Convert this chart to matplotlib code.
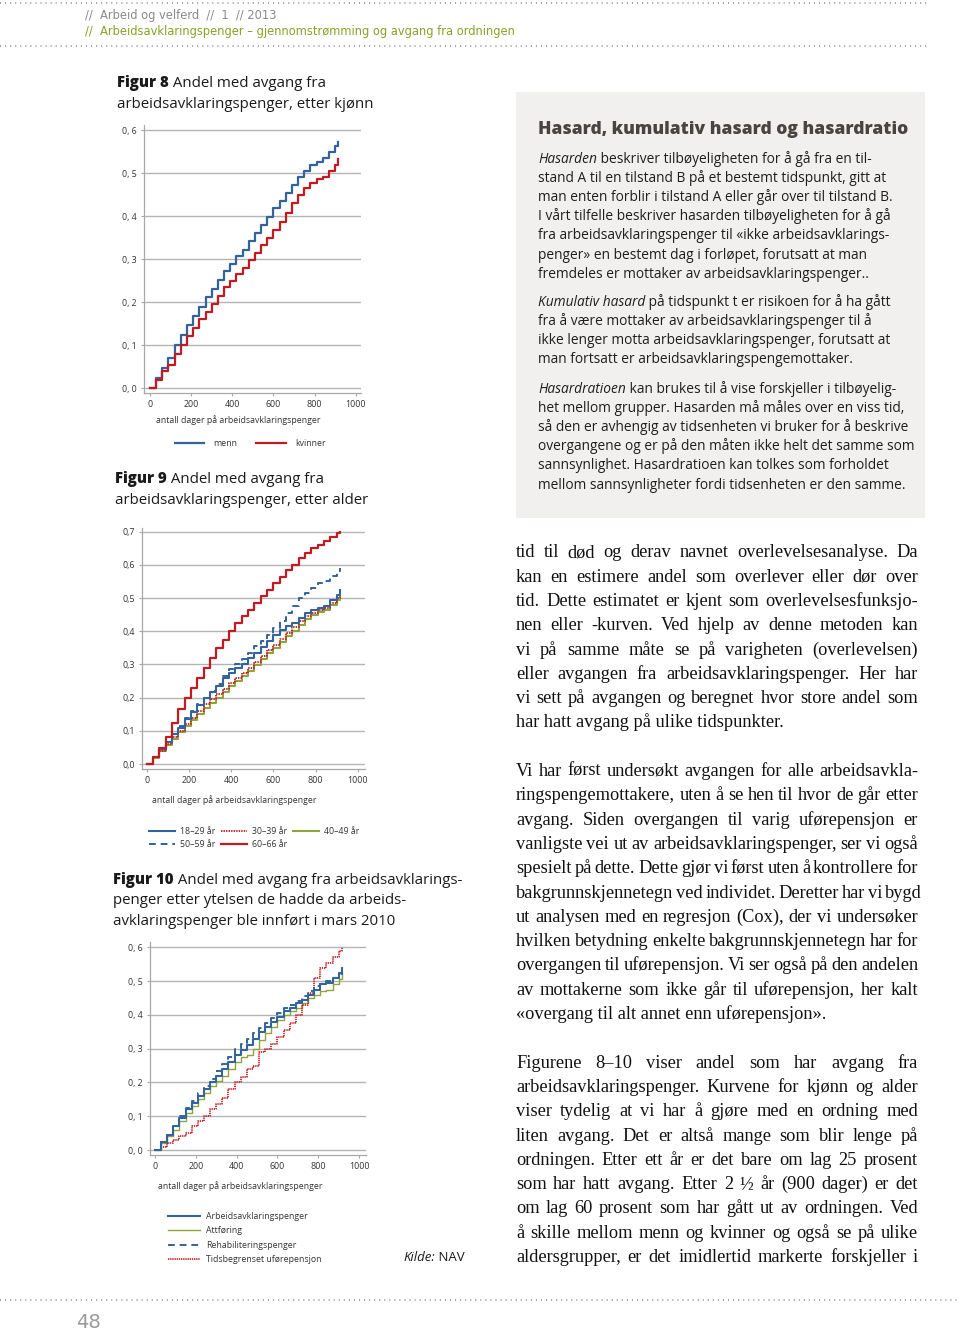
"""Page 48 of Arbeid og velferd 1/2013: three exit curves (figur 8-10) plus text."""

import matplotlib

matplotlib.use("Agg")
import matplotlib.pyplot as plt
from matplotlib.lines import Line2D
from matplotlib.patches import Rectangle

W, H = 960, 1334

# days on AAP, one step per month
DAYS = [0, 30, 60, 90, 120, 150, 180, 210, 240, 270, 300, 330, 360, 390, 420, 450,
        480, 510, 540, 570, 600, 630, 660, 690, 720, 750, 780, 810, 840, 870, 900, 915]
X_TICKS = [0, 200, 400, 600, 800, 1000]

# figur 8, by sex
MENN = [0, 0.025, 0.048, 0.070, 0.100, 0.124, 0.147, 0.169, 0.190, 0.212, 0.230,
        0.252, 0.272, 0.290, 0.307, 0.322, 0.342, 0.360, 0.380, 0.398, 0.418, 0.436,
        0.455, 0.473, 0.490, 0.505, 0.518, 0.527, 0.535, 0.550, 0.563, 0.573]
KVINNER = [0, 0.020, 0.040, 0.055, 0.080, 0.100, 0.122, 0.140, 0.160, 0.178, 0.195,
           0.215, 0.235, 0.250, 0.265, 0.280, 0.298, 0.315, 0.333, 0.350, 0.368, 0.387,
           0.408, 0.430, 0.450, 0.465, 0.478, 0.487, 0.490, 0.505, 0.520, 0.532]

# figur 9, by age group
AGE_18_29 = [0, 0.020, 0.045, 0.065, 0.090, 0.110, 0.135, 0.158, 0.178, 0.198, 0.217,
             0.235, 0.260, 0.275, 0.288, 0.300, 0.318, 0.335, 0.352, 0.370, 0.388, 0.405,
             0.415, 0.425, 0.440, 0.455, 0.465, 0.470, 0.475, 0.495, 0.510, 0.525]
AGE_30_39 = [0, 0.020, 0.040, 0.060, 0.080, 0.100, 0.120, 0.140, 0.160, 0.180, 0.195,
             0.210, 0.227, 0.245, 0.260, 0.273, 0.290, 0.308, 0.325, 0.342, 0.360, 0.378,
             0.395, 0.412, 0.430, 0.445, 0.455, 0.465, 0.470, 0.485, 0.500, 0.510]
AGE_40_49 = [0, 0.018, 0.038, 0.057, 0.076, 0.095, 0.115, 0.133, 0.152, 0.170, 0.185,
             0.200, 0.218, 0.235, 0.250, 0.264, 0.280, 0.297, 0.315, 0.333, 0.350, 0.368,
             0.385, 0.402, 0.420, 0.437, 0.448, 0.458, 0.465, 0.480, 0.495, 0.508]
AGE_50_59 = [0, 0.020, 0.045, 0.065, 0.090, 0.115, 0.140, 0.160, 0.180, 0.200, 0.220,
             0.240, 0.265, 0.285, 0.300, 0.315, 0.335, 0.355, 0.370, 0.390, 0.410, 0.430,
             0.455, 0.475, 0.500, 0.515, 0.530, 0.545, 0.550, 0.565, 0.580, 0.590]
AGE_60_66 = [0, 0.022, 0.048, 0.080, 0.125, 0.165, 0.200, 0.230, 0.260, 0.290, 0.320,
             0.350, 0.375, 0.400, 0.425, 0.445, 0.465, 0.485, 0.505, 0.525, 0.545, 0.563,
             0.583, 0.600, 0.620, 0.637, 0.650, 0.660, 0.672, 0.685, 0.695, 0.700]

# figur 10, by benefit held in March 2010
AAP = [0, 0.025, 0.045, 0.070, 0.095, 0.120, 0.140, 0.160, 0.180, 0.200, 0.220,
       0.240, 0.260, 0.280, 0.297, 0.310, 0.330, 0.350, 0.365, 0.380, 0.395, 0.410,
       0.420, 0.435, 0.445, 0.460, 0.475, 0.490, 0.495, 0.510, 0.525, 0.540]
ATTFORING = [0, 0.020, 0.040, 0.060, 0.085, 0.110, 0.130, 0.150, 0.170, 0.190, 0.205,
             0.220, 0.240, 0.260, 0.275, 0.280, 0.300, 0.325, 0.345, 0.365, 0.385, 0.400,
             0.410, 0.420, 0.435, 0.450, 0.460, 0.470, 0.475, 0.490, 0.505, 0.525]
REHAB = [0, 0.025, 0.045, 0.070, 0.100, 0.125, 0.145, 0.170, 0.190, 0.210, 0.235,
         0.255, 0.275, 0.300, 0.315, 0.330, 0.345, 0.360, 0.375, 0.390, 0.405, 0.420,
         0.430, 0.440, 0.455, 0.470, 0.485, 0.490, 0.500, 0.510, 0.520, 0.535]
TIDSBEGR = [0, 0.010, 0.020, 0.030, 0.040, 0.050, 0.070, 0.085, 0.100, 0.120, 0.135,
            0.155, 0.180, 0.200, 0.215, 0.240, 0.250, 0.290, 0.300, 0.315, 0.335, 0.355,
            0.375, 0.400, 0.430, 0.465, 0.510, 0.540, 0.555, 0.570, 0.590, 0.600]

BLUE, RED, GREEN = "#33639c", "#c21a22", "#8fa43c"
GRID, SPINE, INK = "#b4b4b4", "#a8a8a8", "#333333"
SANS = ["Open Sans", "DejaVu Sans"]
SERIF = ["Liberation Serif", "DejaVu Serif"]
HEAD = ["DejaVu Sans"]

BOX_TITLE = "Hasard, kumulativ hasard og hasardratio"
BOX_PARAS = [
    (159, [[("Hasarden", "italic"), (" beskriver tilbøyeligheten for å gå fra en til-", "normal")],
           "stand A til en tilstand B på et bestemt tidspunkt, gitt at",
           "man enten forblir i tilstand A eller går over til tilstand B.",
           "I vårt tilfelle beskriver hasarden tilbøyeligheten for å gå",
           "fra arbeidsavklaringspenger til «ikke arbeidsavklarings-",
           "penger» en bestemt dag i forløpet, forutsatt at man",
           "fremdeles er mottaker av arbeidsavklaringspenger.."]),
    (302, [[("Kumulativ hasard", "italic"), (" på tidspunkt t er risikoen for å ha gått", "normal")],
           "fra å være mottaker av arbeidsavklaringspenger til å",
           "ikke lenger motta arbeidsavklaringspenger, forutsatt at",
           "man fortsatt er arbeidsavklaringspengemottaker."]),
    (389, [[("Hasardratioen", "italic"), (" kan brukes til å vise forskjeller i tilbøyelig-", "normal")],
           "het mellom grupper. Hasarden må måles over en viss tid,",
           "så den er avhengig av tidsenheten vi bruker for å beskrive",
           "overgangene og er på den måten ikke helt det samme som",
           "sannsynlighet. Hasardratioen kan tolkes som forholdet",
           "mellom sannsynligheter fordi tidsenheten er den samme."]),
]

# body column; "" marks a paragraph break, last line of a paragraph is ragged
BODY = [
    "tid til død og derav navnet overlevelsesanalyse. Da",
    "kan en estimere andel som overlever eller dør over",
    "tid. Dette estimatet er kjent som overlevelsesfunksjo-",
    "nen eller -kurven. Ved hjelp av denne metoden kan",
    "vi på samme måte se på varigheten (overlevelsen)",
    "eller avgangen fra arbeidsavklaringspenger. Her har",
    "vi sett på avgangen og beregnet hvor store andel som",
    "har hatt avgang på ulike tidspunkter.",
    "",
    "Vi har først undersøkt avgangen for alle arbeidsavkla-",
    "ringspengemottakere, uten å se hen til hvor de går etter",
    "avgang. Siden overgangen til varig uførepensjon er",
    "vanligste vei ut av arbeidsavklaringspenger, ser vi også",
    "spesielt på dette. Dette gjør vi først uten å kontrollere for",
    "bakgrunnskjennetegn ved individet. Deretter har vi bygd",
    "ut analysen med en regresjon (Cox), der vi undersøker",
    "hvilken betydning enkelte bakgrunnskjennetegn har for",
    "overgangen til uførepensjon. Vi ser også på den andelen",
    "av mottakerne som ikke går til uførepensjon, her kalt",
    "«overgang til alt annet enn uførepensjon».",
    "",
    "Figurene 8–10 viser andel som har avgang fra",
    "arbeidsavklaringspenger. Kurvene for kjønn og alder",
    "viser tydelig at vi har å gjøre med en ordning med",
    "liten avgang. Det er altså mange som blir lenge på",
    "ordningen. Etter ett år er det bare om lag 25 prosent",
    "som har hatt avgang. Etter 2 ½ år (900 dager) er det",
    "om lag 60 prosent som har gått ut av ordningen. Ved",
    "å skille mellom menn og kvinner og også se på ulike",
    "aldersgrupper, er det imidlertid markerte forskjeller i",
]


def fx(x):
    return x / W


def fy(y):
    return 1 - y / H


fig = plt.figure(figsize=(W / 100, H / 100), dpi=100)
renderer = fig.canvas.get_renderer()


def rich_line(x, y, parts, size, family, color, bold_weight="bold"):
    """Text pieces side by side on one baseline (italic/bold lead-ins)."""
    cur = x
    base = round(y + 0.36 * size)  # y is the visual line centre
    for txt, style in parts:
        kw = dict(fontsize=size, family=family, color=color, va="baseline")
        if style == "bold":
            kw["fontweight"] = bold_weight
        else:
            kw["style"] = style
        t = fig.text(fx(cur), fy(base), txt, **kw)
        cur += t.get_window_extent(renderer).width


def justified(x0, x1, y, line, min_gap=2.8, **kw):
    """Word by word, spread so the line ends at x1."""
    words = line.split(" ")
    texts = [fig.text(fx(x0), fy(y), w, va="baseline", **kw) for w in words]
    widths = [t.get_window_extent(renderer).width for t in texts]
    gap = max((x1 - x0 - sum(widths)) / max(len(words) - 1, 1), min_gap)
    cur = x0
    for t, w in zip(texts, widths):
        t.set_x(fx(cur))
        cur += w + gap


def dotted_rule(y, x0, x1):
    fig.add_artist(Line2D([fx(x0), fx(x1)], [fy(y), fy(y)], color="#9a9a9a",
                          lw=1.3, linestyle=(0, (0.6, 2.2)), transform=fig.transFigure))


def chart(box, xlim, ylim, yticks, ylabels, xlabel_xy):
    l, t, r, b = box
    ax = fig.add_axes([fx(l), fy(b), (r - l) / W, (b - t) / H])
    ax.set_xlim(*xlim)
    ax.set_ylim(*ylim)
    ax.set_xticks(X_TICKS)
    ax.set_xticklabels([str(v) for v in X_TICKS])
    ax.set_yticks(yticks)
    ax.set_yticklabels(ylabels)
    ax.grid(axis="y", color=GRID, lw=1.0)
    ax.set_axisbelow(True)
    for s in ("top", "right"):
        ax.spines[s].set_visible(False)
    for s in ("left", "bottom"):
        ax.spines[s].set_color(SPINE)
        ax.spines[s].set_linewidth(0.9)
    ax.tick_params(labelsize=6.4, labelcolor=INK, color=SPINE, length=2.5, width=0.8, pad=2.5)
    for lab in ax.get_xticklabels() + ax.get_yticklabels():
        lab.set_family(SANS)
    ax.set_xlabel("antall dager på arbeidsavklaringspenger", fontsize=6.3, color=INK, family=SANS)
    lx, ly = xlabel_xy
    ax.xaxis.set_label_coords((lx - l) / (r - l), (b - ly) / (b - t))
    ax.xaxis.label.set_va("center")
    return ax


def legend(ax, handles, labels, anchor, loc, ncol, **kw):
    leg = ax.legend(handles, labels, loc=loc, bbox_to_anchor=(fx(anchor[0]), fy(anchor[1])),
                    bbox_transform=fig.transFigure, ncol=ncol, frameon=False,
                    prop={"family": SANS, "size": 6.3}, borderpad=0, borderaxespad=0, **kw)
    for txt in leg.get_texts():
        txt.set_color(INK)
    return leg


# page furniture
dotted_rule(3, 0, 928)
dotted_rule(46, 0, 928)
dotted_rule(1300, 0, 960)
fig.text(fx(85), fy(15), "//  Arbeid og velferd  //  1  // 2013", fontsize=8.3,
         family=HEAD, color="#8a8a8a", va="center")
fig.text(fx(85), fy(31), "//  Arbeidsavklaringspenger – gjennomstrømming og avgang fra ordningen",
         fontsize=8.3, family=HEAD, color="#86a32a", va="center")
fig.text(fx(76), fy(1322), "48", fontsize=14, family=HEAD, color="#9a9a9a", va="center")

TITLE = dict(size=10.85, family=SANS, color="#1a1a1a", bold_weight=800)

# figur 8
rich_line(117, 83, [("Figur 8", "bold"), (" Andel med avgang fra", "normal")], **TITLE)
rich_line(117, 104, [("arbeidsavklaringspenger, etter kjønn", "normal")], **TITLE)
ax8 = chart((144, 125, 361, 393), (-29, 1026), (-0.011, 0.612),
            [0, 0.1, 0.2, 0.3, 0.4, 0.5, 0.6],
            ["0, 0", "0, 1", "0, 2", "0, 3", "0, 4", "0, 5", "0, 6"], (238, 420))
h_m, = ax8.plot(DAYS, MENN, drawstyle="steps-post", color=BLUE, lw=1.6)
h_k, = ax8.plot(DAYS, KVINNER, drawstyle="steps-post", color=RED, lw=1.6)
legend(ax8, [h_m, h_k], ["menn", "kvinner"], (250, 444), "center", 2,
       handlelength=3.4, handletextpad=1.0, columnspacing=2.2)

# figur 9
rich_line(115, 479, [("Figur 9", "bold"), (" Andel med avgang fra", "normal")], **TITLE)
rich_line(115, 500, [("arbeidsavklaringspenger, etter alder", "normal")], **TITLE)
ax9 = chart((142, 528, 365, 769), (-22, 1034), (-0.015, 0.711),
            [0, 0.1, 0.2, 0.3, 0.4, 0.5, 0.6, 0.7],
            ["0,0", "0,1", "0,2", "0,3", "0,4", "0,5", "0,6", "0,7"], (234, 800))
h_a3, = ax9.plot(DAYS, AGE_40_49, drawstyle="steps-post", color=GREEN, lw=1.5)
h_a2, = ax9.plot(DAYS, AGE_30_39, drawstyle="steps-post", color=RED, lw=1.3, linestyle=(0, (0.8, 0.6)))
h_a1, = ax9.plot(DAYS, AGE_18_29, drawstyle="steps-post", color=BLUE, lw=1.5)
h_a4, = ax9.plot(DAYS, AGE_50_59, drawstyle="steps-post", color=BLUE, lw=1.4, linestyle=(0, (3.5, 2.5)))
h_a5, = ax9.plot(DAYS, AGE_60_66, drawstyle="steps-post", color=RED, lw=1.6)
legend(ax9, [h_a1, h_a4, h_a2, h_a5, h_a3],
       ["18–29 år", "50–59 år", "30–39 år", "60–66 år", "40–49 år"], (254, 838), "center", 3,
       handlelength=3.0, handletextpad=0.5, columnspacing=0.7, labelspacing=0.45)

# figur 10
rich_line(113, 880, [("Figur 10", "bold"), (" Andel med avgang fra arbeidsavklarings-", "normal")],
          **TITLE)
rich_line(113, 900, [("penger etter ytelsen de hadde da arbeids-", "normal")], **TITLE)
rich_line(113, 921, [("avklaringspenger ble innført i mars 2010", "normal")], **TITLE)
ax10 = chart((150, 942, 366, 1155), (-24.5, 1034), (-0.0148, 0.6157),
             [0, 0.1, 0.2, 0.3, 0.4, 0.5, 0.6],
             ["0, 0", "0, 1", "0, 2", "0, 3", "0, 4", "0, 5", "0, 6"], (240, 1186))
h_att, = ax10.plot(DAYS, ATTFORING, drawstyle="steps-post", color=GREEN, lw=1.0)
h_tid, = ax10.plot(DAYS, TIDSBEGR, drawstyle="steps-post", color=RED, lw=1.2, linestyle=(0, (0.8, 0.5)))
h_aap, = ax10.plot(DAYS, AAP, drawstyle="steps-post", color=BLUE, lw=1.5)
h_reh, = ax10.plot(DAYS, REHAB, drawstyle="steps-post", color=BLUE, lw=1.4, linestyle=(0, (3.5, 2.5)))
legend(ax10, [h_aap, h_att, h_reh, h_tid],
       ["Arbeidsavklaringspenger", "Attføring", "Rehabiliteringspenger", "Tidsbegrenset uførepensjon"],
       (168, 1212), "upper left", 1, handlelength=3.6, handletextpad=0.8, labelspacing=0.62)
rich_line(403, 1258, [("Kilde:", "italic"), (" NAV", "normal")], 9.5, SANS, "#1a1a1a")

# fact box
fig.add_artist(Rectangle((fx(516), fy(518)), (925 - 516) / W, (518 - 92) / H,
                         transform=fig.transFigure, fc="#f1f0ee", ec="none", zorder=0))
fig.text(fx(538), fy(130), BOX_TITLE, fontsize=12.6, fontweight=800, family=SANS,
         color="#4a4440", va="center")
for y0, lines in BOX_PARAS:
    for i, line in enumerate(lines):
        parts = line if isinstance(line, list) else [(line, "normal")]
        rich_line(538, y0 + i * 19.2, parts, 9.9, SANS, "#1e1e1e")

# body text, justified to the column edge
BODY_SIZE = 13.2
for k, line in enumerate(BODY):
    if not line:
        continue
    y = round(553 + k * 24.3 + 0.33 * BODY_SIZE)  # centre -> baseline, whole pixel
    last = k + 1 < len(BODY) and BODY[k + 1] == ""
    style = dict(fontsize=BODY_SIZE, family=SERIF, color="#111111")
    if last:
        fig.text(fx(516), fy(y), line, va="baseline", **style)
    else:
        justified(516, 918, y, line, **style)

fig.savefig("out.png", dpi=100)
